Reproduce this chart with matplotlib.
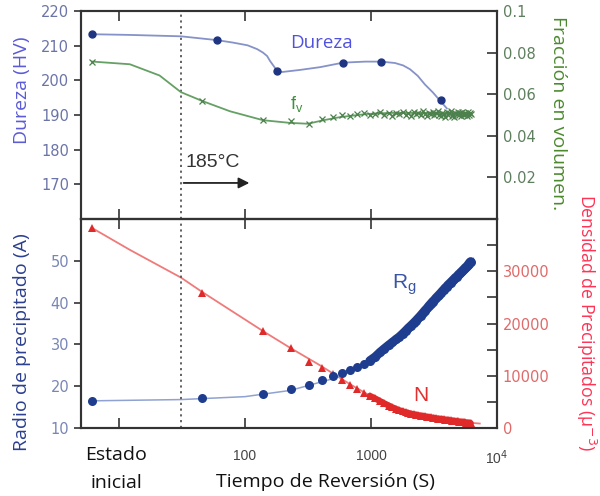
import matplotlib
matplotlib.use("Agg")
import matplotlib.pyplot as plt
from matplotlib.ticker import FixedLocator, NullLocator, FixedFormatter

# ---------------- data ----------------
hv_t = [6.1, 60, 180, 600, 1200, 3600]
hv = [213.3, 211.6, 202.7, 205.1, 205.4, 194.2]
hv_fit_t = [6.1, 12.2, 31, 60, 80, 105, 125, 139, 150, 158, 170, 180, 197, 273, 394, 600, 900, 1200, 1550, 1800, 2040, 2350, 2680, 3100, 3520, 4000]
hv_fit = [213.3, 213.1, 212.7, 211.6, 210.9, 210.1, 209.0, 208.0, 207.0, 205.6, 204.0, 202.7, 202.4, 203.0, 203.8, 205.1, 205.4, 205.4, 205.0, 204.3, 203.2, 201.3, 198.8, 196.5, 194.2, 191.9]

t_meas = [6.1, 46, 140, 230, 325, 410, 500, 590, 680, 780, 880, 980,
          1080, 1180, 1280, 1380, 1480, 1580, 1680, 1780, 1880, 1980,
          2080, 2180, 2280, 2380, 2480, 2580, 2680, 2780, 2880, 2980,
          3080, 3180, 3280, 3380, 3480, 3580, 3680, 3780, 3880, 3980,
          4080, 4180, 4280, 4380, 4480, 4580, 4680, 4780, 4880, 4980,
          5080, 5180, 5280, 5380, 5480, 5580, 5680, 5780, 5880, 5980,
          6080, 6180]

fv = [0.0757, 0.0567, 0.0475, 0.0469, 0.0455, 0.0480, 0.0488, 0.0499, 0.0494, 0.0503, 0.0510, 0.0498,
      0.0507, 0.0514, 0.0502, 0.0509, 0.0497, 0.0512, 0.0505, 0.0516, 0.0501, 0.0508,
      0.0495, 0.0513, 0.0504, 0.0510, 0.0499, 0.0517, 0.0506, 0.0493, 0.0511, 0.0503,
      0.0515, 0.0498, 0.0508, 0.0520, 0.0501, 0.0496, 0.0512, 0.0505, 0.0489, 0.0514,
      0.0502, 0.0509, 0.0519, 0.0497, 0.0506, 0.0492, 0.0511, 0.0503, 0.0516, 0.0500,
      0.0508, 0.0494, 0.0513, 0.0504, 0.0499, 0.0510, 0.0506, 0.0496, 0.0514, 0.0502,
      0.0509, 0.0505]
fv_fit_t = [6.1, 12.2, 21, 31, 46, 76, 139, 228, 316, 420, 570, 930, 1400, 6200]
fv_fit = [0.0757, 0.0744, 0.0690, 0.0610, 0.0567, 0.0518, 0.0475, 0.0462, 0.0458, 0.0475, 0.0490, 0.0505, 0.0510, 0.0510]

rg = [16.5, 17.1, 18.1, 19.3, 20.4, 21.4, 22.4, 23.2, 23.8, 24.7, 25.3, 26.1,
      27.0, 28.1, 29.0, 29.8, 30.5, 31.2, 31.8, 32.5, 33.2, 33.9,
      34.5, 35.1, 35.7, 36.3, 36.9, 37.5, 38.1, 38.6, 39.2, 39.7,
      40.2, 40.6, 41.1, 41.5, 41.9, 42.3, 42.7, 43.1, 43.5, 43.8,
      44.2, 44.5, 44.8, 45.1, 45.4, 45.7, 46.0, 46.2, 46.5, 46.8,
      47.0, 47.3, 47.5, 47.8, 48.0, 48.3, 48.5, 48.7, 49.0, 49.3,
      49.6, 49.8]
rg_fit_t = [6.1, 31, 100, 230, 500, 1000, 1700, 3100, 4240, 5780, 6500]
rg_fit = [16.5, 16.8, 17.5, 19.0, 21.8, 26.0, 31.8, 40.2, 44.7, 48.7, 50.6]

n_dens = [38300, 25900, 18500, 15300, 12700, 11500, 10250, 9250, 8300, 7400, 6700, 6150,
          5650, 5150, 4700, 4300, 3950, 3650, 3400, 3200, 3020, 2870,
          2740, 2630, 2530, 2450, 2370, 2290, 2220, 2150, 2080, 2010,
          1950, 1900, 1850, 1800, 1760, 1720, 1680, 1640, 1600, 1560,
          1520, 1480, 1440, 1400, 1370, 1340, 1310, 1280, 1250, 1220,
          1190, 1160, 1140, 1120, 1100, 1080, 1050, 1030, 1000, 980,
          960, 940]
n_fit_t = [6.1, 12.2, 31, 46, 140, 230, 394, 680, 980, 1700, 3100, 5780, 7300]
n_fit = [38300, 34100, 28800, 26000, 18500, 15300, 12000, 8400, 6200, 3600, 1900, 1050, 850]

x_ticks = [10, 100, 1000, 10000]
x_ticklabels = ["", "100", "1000", "10$^4$"]
hv_ticks = [170, 180, 190, 200, 210, 220]
fv_ticks = [0.02, 0.04, 0.06, 0.08, 0.1]
fv_ticklabels = ["0.02", "0.04", "0.06", "0.08", "0.1"]
rg_ticks = [10, 20, 30, 40, 50]
n_ticks = [0, 5000, 10000, 15000, 20000, 25000, 30000, 35000]
n_ticklabels = ["0", "", "10000", "", "20000", "", "30000", ""]
t_start = 31
DENSE_FROM = 11  # index where the continuous (dense) record begins

# ---------------- styles ----------------
SPINE = "#333333"
TICKFONT = "Liberation Sans"
LABFONT = "Open Sans"

fig = plt.figure(figsize=(6, 4.96), dpi=100)
W, H = 600, 496
L, R = 81, 497
ax1 = fig.add_axes([L / W, 1 - 219 / H, (R - L) / W, (219 - 11) / H])
ax2 = fig.add_axes([L / W, 1 - 428 / H, (R - L) / W, (428 - 219) / H])
ax1r = ax1.twinx()
ax2r = ax2.twinx()

for a in (ax1, ax2, ax1r, ax2r):
    for s in a.spines.values():
        s.set_color(SPINE)
        s.set_linewidth(1.5)

for a in (ax1, ax2):
    a.set_xscale("log")
    a.set_xlim(5, 1e4)
    a.xaxis.set_major_locator(FixedLocator(x_ticks))
    a.xaxis.set_minor_locator(NullLocator())
    a.tick_params(axis="x", which="major", direction="in", length=7, width=1.2,
                  color=SPINE, top=True, bottom=True)

ax1.tick_params(axis="x", labelbottom=False)
ax2.xaxis.set_major_formatter(FixedFormatter(x_ticklabels))
ax2.tick_params(axis="x", labelsize=10, labelcolor="#444444", pad=15)
for lab in ax2.get_xticklabels():
    lab.set_fontfamily(TICKFONT)

# ---- top panel ----
ax1.set_ylim(160, 220)
ax1.set_yticks(hv_ticks)
ax1.tick_params(axis="y", direction="out", length=5, width=1.2, color=SPINE,
                labelsize=10.5, labelcolor="#6b74a8")
ax1r.set_ylim(0, 0.1)
ax1r.set_yticks(fv_ticks)
ax1r.set_yticklabels(fv_ticklabels)
ax1r.tick_params(axis="y", direction="in", length=7, width=1.2, color=SPINE,
                 labelsize=10.5, labelcolor="#5d7f5d", pad=4)

ax1.plot(hv_fit_t, hv_fit, color="#8593c8", lw=1.3, zorder=3)
ax1.plot(hv_t, hv, "o", color="#1f3582", ms=5, zorder=4)
ax1r.plot(fv_fit_t, fv_fit, color="#65a065", lw=1.3, zorder=2)
ax1r.plot(t_meas[DENSE_FROM:], fv[DENSE_FROM:], "-", color="#5b8f5b", lw=0.8, zorder=2)
ax1r.plot(t_meas, fv, "x", color="#4c804c", ms=4, mew=0.9, zorder=3)

ax1.axvline(t_start, color="#555555", ls=(0, (1.2, 2)), lw=1.3)
ax1.annotate("", xy=(114, 170.4), xytext=(t_start, 170.4),
             arrowprops=dict(arrowstyle="-|>", color="#222222", lw=1.3, mutation_scale=16))
ax1.text(34, 176.3, "185°C", fontsize=14, family=TICKFONT, color="#333333",
         ha="left", va="center")
ax1.text(408, 210.8, "Dureza", fontsize=13.5, family=LABFONT, color="#5151e0",
         ha="center", va="center")
ax1r.text(259, 0.0555, "f$_\\mathregular{v}$", fontsize=13, family=TICKFONT,
          color="#3f8f3f", ha="center", va="center")

# ---- bottom panel ----
ax2.set_ylim(10, 60)
ax2.set_yticks(rg_ticks)
ax2.tick_params(axis="y", direction="out", length=5, width=1.2, color=SPINE,
                labelsize=10.5, labelcolor="#7886b6")
ax2r.set_ylim(0, 40000)
ax2r.set_yticks(n_ticks)
ax2r.set_yticklabels(n_ticklabels)
ax2r.tick_params(axis="y", direction="in", length=7, width=1.2, color=SPINE,
                 labelsize=10.5, labelcolor="#e06a6a", pad=4)

ax2r.plot(n_fit_t, n_fit, color="#f07a7a", lw=1.3, zorder=2)
ax2r.plot(t_meas[DENSE_FROM:], n_dens[DENSE_FROM:], "-", color="#e02a2a", lw=4.5,
          solid_capstyle="round", zorder=3)
ax2r.plot(t_meas, n_dens, "^", color="#e02a2a", ms=5.5, mew=0, zorder=3)
ax2.plot(rg_fit_t, rg_fit, color="#90a2d2", lw=1.1, zorder=2)
ax2.plot(t_meas[DENSE_FROM:], rg[DENSE_FROM:], "-", color="#1f3d8e", lw=6.5,
         solid_capstyle="round", zorder=3)
ax2.plot(t_meas, rg, "o", color="#1f3d8e", ms=6.5, mew=0, zorder=3)
ax2.set_zorder(ax2r.get_zorder() + 1)
ax2.patch.set_visible(False)

ax2.axvline(t_start, color="#555555", ls=(0, (1.2, 2)), lw=1.3)
ax2.text(1830, 44.2, "R$_\\mathregular{g}$", fontsize=15, family=TICKFONT,
         color="#3a55a6", ha="center", va="center")
ax2r.text(2500, 6200, "N", fontsize=15, family=TICKFONT, color="#e03030",
          ha="center", va="center")

# ---- labels ----
fig.text(22 / W, 1 - 90 / H, "Dureza (HV)", rotation=90, fontsize=14, family=LABFONT,
         color="#5b5bd8", ha="center", va="center")
fig.text(22 / W, 1 - 342 / H, "Radio de precipitado (A)", rotation=90, fontsize=14,
         family=LABFONT, color="#2b3f8f", ha="center", va="center")
fig.text(558 / W, 1 - 113 / H, "Fracción en volumen.", rotation=270, fontsize=14,
         family=LABFONT, color="#4c8a2e", ha="center", va="center")
fig.text(586 / W, 1 - 323 / H, "Densidad de Precipitados (μ$^{-3}$)", rotation=270,
         fontsize=12.8, family=LABFONT, color="#ff3355", ha="center", va="center")
fig.text(325 / W, 1 - 482 / H, "Tiempo de Reversión (S)", fontsize=14, family=LABFONT,
         color="#111111", ha="center", va="center")
fig.text(116 / W, 1 - 455 / H, "Estado", fontsize=14, family=LABFONT,
         color="#111111", ha="center", va="center")
fig.text(116 / W, 1 - 483 / H, "inicial", fontsize=14, family=LABFONT,
         color="#111111", ha="center", va="center")

fig.savefig("out.png", dpi=100)
